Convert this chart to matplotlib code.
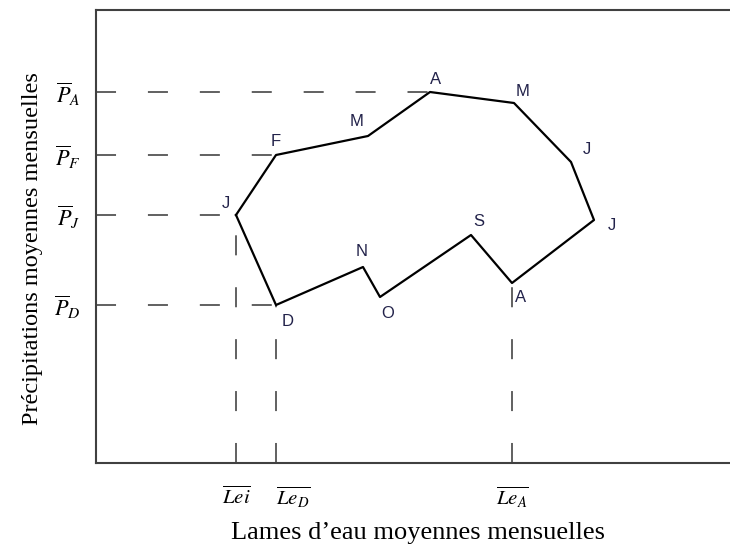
import matplotlib.pyplot as plt

plt.rcParams['mathtext.fontset'] = 'stix'

# monthly regime (hydrological year loop, Jan -> Dec)
months = ['J', 'F', 'M', 'A', 'M', 'J', 'J', 'A', 'S', 'O', 'N', 'D']
lame_eau = [14.0, 18.0, 27.2, 33.4, 41.8, 47.5, 49.8, 41.6, 37.5, 28.4, 26.7, 18.0]
precip = [24.8, 30.8, 32.7, 37.1, 36.0, 30.1, 24.3, 18.0, 22.8, 16.6, 19.6, 15.8]

# offsets of the month letters (pixels)
lab_dx = [-10, 0, -11, 6, 9, 16, 18, 9, 8, 8, -1, 12]
lab_dy = [12, 14, 15, 13, 12, 12, -6, -14, 13, -16, 16, -16]

# reference lines: (month index, label)
p_refs = [(3, r'$\overline{P}_A$'), (1, r'$\overline{P}_F$'),
          (0, r'$\overline{P}_J$'), (11, r'$\overline{P}_D$')]
le_refs = [(0, r'$\overline{Lei}$'), (11, r'$\overline{Le_D}$'),
           (7, r'$\overline{Le_A}$')]

fig = plt.figure(figsize=(7.3, 5.47), dpi=100)
ax = fig.add_axes([96 / 730, 84 / 547, 640 / 730, 453 / 547])
ax.set_xlim(0, 64.0)
ax.set_ylim(0, 45.3)

dash = (0, (10.3, 16.4))
for i, lab in p_refs:
    ax.plot([0, lame_eau[i]], [precip[i], precip[i]], color='#606060',
            lw=1.4, ls=dash, zorder=1)
for i, lab in le_refs:
    ax.plot([lame_eau[i], lame_eau[i]], [0, precip[i]], color='#606060',
            lw=1.4, ls=dash, zorder=1)

ax.plot(lame_eau + lame_eau[:1], precip + precip[:1], color='black',
        lw=1.6, zorder=2)

for x, y, m, dx, dy in zip(lame_eau, precip, months, lab_dx, lab_dy):
    ax.annotate(m, (x, y), xytext=(dx, dy), textcoords='offset pixels',
                ha='center', va='center', fontsize=12, color='#22224a',
                family='Liberation Sans')

ax.set_yticks([precip[i] for i, _ in p_refs])
ax.set_yticklabels([lab for _, lab in p_refs], fontsize=16)
ax.set_xticks([lame_eau[i] for i, _ in le_refs])
ax.set_xticklabels([lab for _, lab in le_refs], fontsize=15)
ax.get_xticklabels()[1].set_ha('left')
ax.tick_params(length=0)
ax.tick_params(axis='y', pad=11)
ax.tick_params(axis='x', pad=16)

for s in ['left', 'bottom', 'top']:
    ax.spines[s].set_color('#404040')
    ax.spines[s].set_linewidth(1.5)
ax.spines['right'].set_visible(False)

fig.text(418 / 730, 1 - 533 / 547, 'Lames d\u2019eau moyennes mensuelles',
         ha='center', va='center', fontsize=19, family='Liberation Serif')
fig.text(33 / 730, 1 - 249 / 547, 'Précipitations moyennes mensuelles',
         ha='center', va='center', rotation=90, fontsize=17.5,
         family='Liberation Serif')

fig.savefig('out.png', dpi=100)
